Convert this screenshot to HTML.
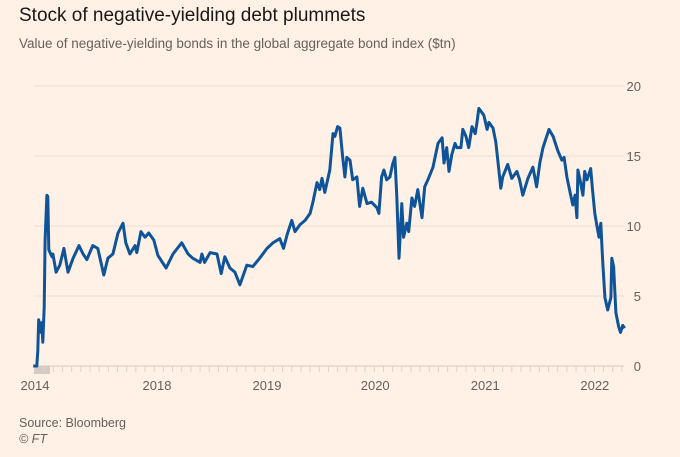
<!DOCTYPE html>
<html><head><meta charset="utf-8"><style>
body{margin:0;background:#fff1e5;width:680px;height:457px;overflow:hidden;font-family:"Liberation Sans",sans-serif}
svg{display:block}
</style></head><body>
<svg width="680" height="457">
<rect width="680" height="457" fill="#fff1e5"/>
<text x="19" y="21" font-size="19" fill="#1a1817">Stock of negative-yielding debt plummets</text>
<text x="19" y="48" font-size="13.5" fill="#66605c">Value of negative-yielding bonds in the global aggregate bond index ($tn)</text>
<g id="grid"></g>
<g id="axes"></g>
<path id="line" fill="none" stroke="#0f5499" stroke-width="3" stroke-linejoin="round"/>
<text x="19" y="427" font-size="12.5" fill="#66605c">Source: Bloomberg</text>
<text x="19" y="443" font-size="12.5" font-style="italic" fill="#66605c">© FT</text>
</svg>
<script>
const months=[-0.2,0.2,0.3,0.4,0.65,0.75,0.85,1.0,1.1,1.3,1.4,1.5,1.85,1.95,2.3,2.7,3.15,3.6,4.15,4.8,5.25,5.65,6.3,6.85,7.5,7.95,8.5,9.05,9.6,9.9,10.35,10.9,11.1,11.55,12.0,12.4,12.95,13.4,14.3,15.05,16.0,16.7,17.2,18.0,18.2,18.5,19.1,19.85,20.3,20.7,21.25,21.8,22.35,23.1,23.75,24.5,25.3,25.95,26.7,27.1,27.5,28.0,28.35,28.9,29.45,30.0,30.3,30.75,31.05,31.3,31.6,32.15,32.5,32.7,33.0,33.25,33.55,33.8,34.0,34.35,34.65,35.1,35.4,35.75,36.2,36.7,37.3,37.5,37.8,38.05,38.35,38.7,39.0,39.25,39.45,39.7,40.0,40.2,40.55,40.75,41.1,41.4,41.75,42.2,42.5,42.85,43.4,43.95,44.4,44.6,44.9,45.15,45.45,45.8,46.0,46.45,46.65,47.0,47.3,47.65,48.0,48.2,48.4,48.75,48.95,49.3,49.5,49.95,50.25,50.5,50.8,51.0,51.55,52.0,52.55,52.85,53.2,53.75,54.3,54.7,55.05,55.4,56.05,56.5,57.0,57.45,57.7,58.0,58.35,58.65,58.9,59.1,59.2,59.5,59.75,59.95,60.2,60.6,60.8,61.05,61.25,61.5,61.7,61.9,62.15,62.45,62.8,62.9,63.1,63.35,63.65,63.85,64.1,64.3];
const values=[0,0,1.1,3.3,2.4,3.1,1.7,4.2,9,12.2,12.1,8.3,7.8,8,6.7,7.2,8.4,6.7,7.7,8.6,8,7.6,8.6,8.4,6.5,7.7,8,9.5,10.2,8.8,8,8.6,8.1,9.6,9.2,9.5,9,7.9,7,8,8.8,8,7.7,7.4,8,7.4,8.1,8,6.6,7.8,7,6.7,5.8,7.2,7.1,7.7,8.4,8.8,9.1,8.4,9.4,10.4,9.6,10.1,10.4,10.9,11.7,13.1,12.6,13.4,12.4,14,16.6,16.4,17.1,17,14.9,13.5,14.9,14.7,13.3,13.5,11.4,12.7,11.6,11.7,11.3,10.9,13.5,14,13.3,13.5,14.4,14.9,12.1,7.7,11.6,9.2,10.2,9.6,12,11.4,12.6,10.6,12.8,13.3,14.2,15.9,16.3,14.5,15.6,13.9,15.1,15.9,15.6,15.6,16.9,16.4,15.6,17.1,16.6,17.4,18.4,18.1,17.9,16.9,17.4,17,16,14.5,12.7,13.5,14.4,13.4,13.9,13.3,12.2,13.4,14.2,12.8,14.5,15.6,16.9,16.4,15.4,14.7,14.9,13.5,12.4,11.5,12.2,10.6,14,13.1,12.2,13.9,13.3,14.1,12.6,10.9,10.1,9.2,10.2,7.6,4.9,4,4.9,7.7,7.1,3.8,2.8,2.4,2.9,2.7];
const yTicks=[0,5,10,15,20];
const xTickLabels=["2014","2018","2019","2020","2021","2022"];
const xTickMonths=[0,13.3,25.3,37.1,49.1,61.05];
const NS="http://www.w3.org/2000/svg";
const x=t=>35+t*9.17, y=v=>366-v*14;
const grid=document.getElementById('grid'), axes=document.getElementById('axes');
function mk(tag,attrs,parent){const e=document.createElementNS(NS,tag);for(const k in attrs)e.setAttribute(k,attrs[k]);parent.appendChild(e);return e;}
yTicks.forEach(v=>{
  if(v>0){const l=mk('line',{x1:34,x2:624,y1:y(v),y2:y(v),stroke:'#ecdfd4','stroke-width':1},grid);
  
  }
  const t=mk('text',{x:641,y:y(v)+5,'text-anchor':'end','font-size':13,fill:'#66605c'},axes);
  t.textContent=v;
  
  
});
const ax=mk('line',{x1:34,x2:624,y1:366,y2:366,stroke:'#d6cbc1','stroke-width':1},axes);


const br=mk('rect',{x:34,y:366,width:16,height:8,fill:'#d3cbc4'},axes);


for(let m=0;m<=64;m++){
  const tk=mk('line',{x1:x(m),x2:x(m),y1:366,y2:372,stroke:'#ddd2c8','stroke-width':1},axes);
  
  
}
xTickLabels.forEach((s,i)=>{
  const t=mk('text',{x:x(xTickMonths[i]),y:390,'text-anchor':'middle','font-size':13,fill:'#66605c'},axes);
  t.textContent=s;
  
  
});
document.getElementById('line').setAttribute('d',months.map((m,i)=>(i?'L':'M')+x(m).toFixed(1)+','+y(values[i]).toFixed(1)).join(''));
</script>
</body></html>
